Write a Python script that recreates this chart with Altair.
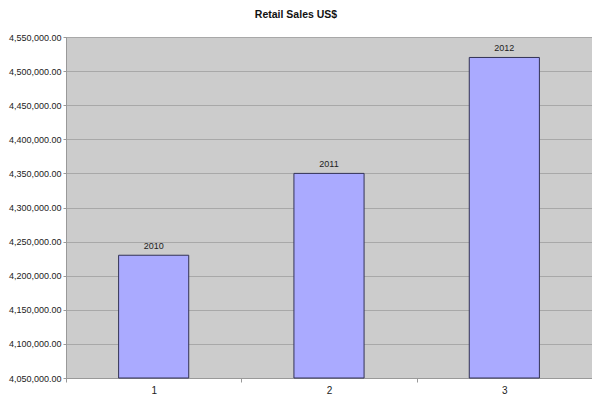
import altair as alt
import pandas as pd

categories = ["1", "2", "3"]
years = ["2010", "2011", "2012"]
sales = [4230000, 4350000, 4520000]
y_ticks = [4050000, 4100000, 4150000, 4200000, 4250000, 4300000,
           4350000, 4400000, 4450000, 4500000, 4550000]

df = pd.DataFrame({"cat": categories, "year": years, "sales": sales})

y_enc = alt.Y("sales:Q", title=None,
              scale=alt.Scale(domain=[4050000, 4550000], zero=False, nice=False),
              axis=alt.Axis(format=",.2f", values=y_ticks, tickCount=11, labelOverlap=False,
                            labelFont="Liberation Sans", labelFontSize=9,
                            labelColor="#222222", domainColor="#999999", tickColor="#999999",
                            tickSize=3, gridColor="#A8A8A8", gridWidth=1, labelPadding=2))

base = alt.Chart(df).encode(
    x=alt.X("cat:N", title=None, sort=categories,
            scale=alt.Scale(paddingInner=0, paddingOuter=0),
            axis=alt.Axis(labelAngle=0, labelFont="Liberation Sans", labelFontSize=10,
                          labelColor="#222222", domainColor="#999999", tickColor="#999999",
                          tickBand="extent", tickSize=4, labelPadding=3, grid=False)),
    y=y_enc,
)

bars = base.mark_bar(color="#AAAAFF", stroke="#333355", strokeWidth=1,
                     width=alt.RelativeBandSize(0.4)).encode(
    y2=alt.datum(4050000),
)

labels = base.mark_text(dy=-9, font="Liberation Sans", fontSize=9, color="#222222").encode(
    text="year:N",
)

chart = (bars + labels).properties(
    width=526, height=341,
    autosize=alt.AutoSizeParams(type="none"),
    padding={"left": 58, "top": 29, "right": 0, "bottom": 16},
    title=alt.TitleParams("Retail Sales US$", font="Liberation Sans", fontSize=10.5,
                          fontWeight="bold", color="#111111", anchor="middle",
                          dx=-33, offset=13),
    background="white",
).configure_view(fill="#CCCCCC", stroke="#999999")

chart.save("out.html", embed_options={"renderer": "svg", "actions": False})
